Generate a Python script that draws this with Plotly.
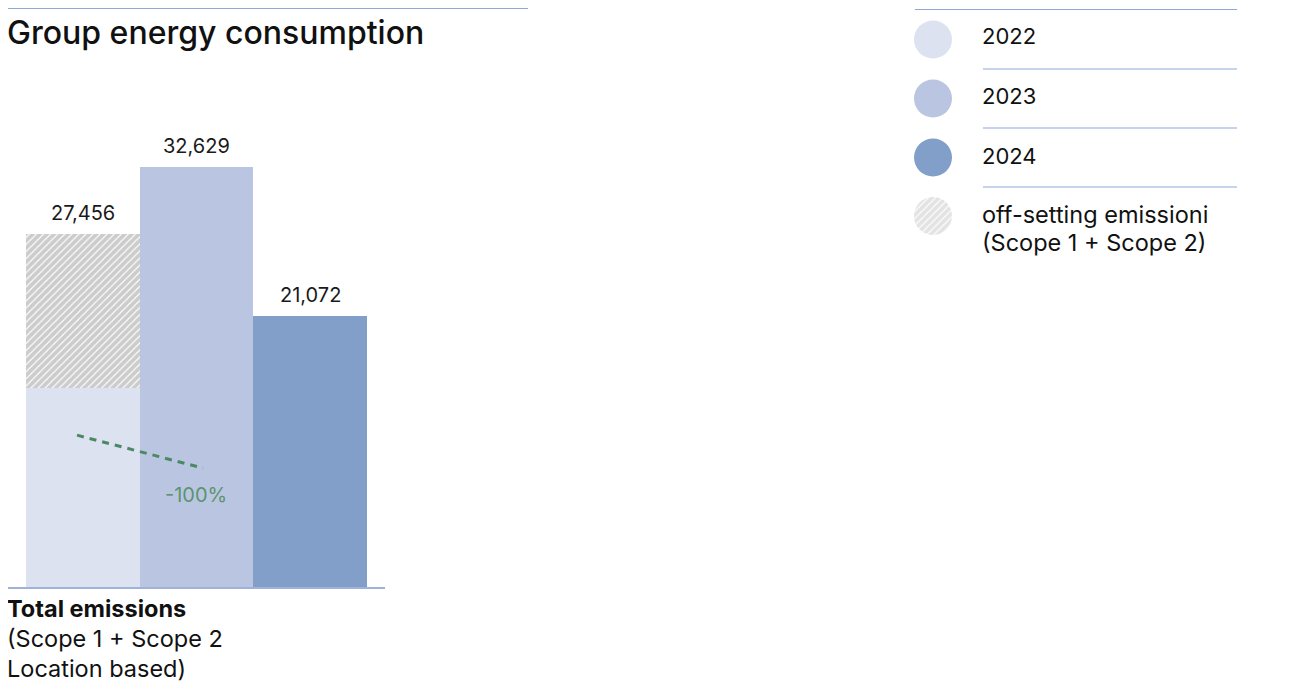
import plotly.graph_objects as go

# ---- data ----
years = ["2022", "2023", "2024"]
totals = [27456, 32629, 21072]
base_2022 = 15480          # non off-set part of 2022
offset_2022 = 11976        # off-setting emissions portion of 2022
total_labels = ["27,456", "32,629", "21,072"]
legend_labels = ["2022", "2023", "2024", "off-setting emissioni<br>(Scope 1 + Scope 2)"]
trend_label = "-100%"
caption_lines = ["<b>Total emissions</b>", "(Scope 1 + Scope 2", "Location based)"]
title_text = "Group energy consumption"

# ---- styles ----
colors = ["#dce2f0", "#bac6e1", "#819fc9"]
hatch_bg = "#cccccc"
line_blue = "#8ea7d6"
green = "#4b8864"
FONT = "Inter"
PAGE_W, PAGE_H = 1293, 682
OFF = 8                                  # browser body margin
W, H = PAGE_W - OFF, PAGE_H - OFF


def px(x):
    return (x - OFF) / W


def py(y):
    return 1 - (y - OFF) / H


fig = go.Figure()

# bars
fig.add_trace(go.Bar(x=[0], y=[base_2022], width=1, marker=dict(color=colors[0], line=dict(width=0)),
                     name=years[0], hoverinfo="skip"))
fig.add_trace(go.Bar(x=[0], y=[offset_2022], width=1,
                     marker=dict(color=hatch_bg, line=dict(width=0),
                                 pattern=dict(shape="/", fgcolor="white", bgcolor=hatch_bg,
                                              size=5, solidity=0.22, fillmode="replace")),
                     name="offset", hoverinfo="skip"))
fig.add_trace(go.Bar(x=[1], y=[totals[1]], width=1, marker=dict(color=colors[1], line=dict(width=0)),
                     name=years[1], hoverinfo="skip"))
fig.add_trace(go.Bar(x=[2], y=[totals[2]], width=1, marker=dict(color=colors[2], line=dict(width=0)),
                     name=years[2], hoverinfo="skip"))

annotations = []
for i, (t, lab) in enumerate(zip(totals, total_labels)):
    annotations.append(dict(x=i, y=t, xref="x", yref="y", text=lab, showarrow=False,
                            xanchor="center", yanchor="bottom", yshift=7,
                            font=dict(family=FONT, size=20, color="#1a1a1a")))

# dashed trend line and label
fig.add_shape(type="line", xref="x", yref="y", x0=-0.051, y0=11800, x1=1.057, y1=9240,
              line=dict(color=green, width=3, dash="7px,6px"))
annotations.append(dict(x=px(196), y=py(495), xref="paper", yref="paper", text=trend_label,
                        xanchor="center", yanchor="middle",
                        showarrow=False, font=dict(family=FONT, size=20, color="#5a9470")))

# title + top rule
fig.add_shape(type="line", xref="paper", yref="paper", x0=0, x1=px(528), y0=py(8.5), y1=py(8.5),
              line=dict(color=line_blue, width=1))
annotations.append(dict(x=px(5), y=py(32), xref="paper", yref="paper", xanchor="left", yanchor="middle",
                        text=title_text, showarrow=False,
                        font=dict(family=FONT, size=32, color="#111111", weight=500)))

# bottom caption
for txt, yy in zip(caption_lines, [608, 638, 668]):
    annotations.append(dict(x=px(5), y=py(yy), xref="paper", yref="paper", xanchor="left", yanchor="middle",
                            text=txt, showarrow=False, font=dict(family=FONT, size=23.5, color="#111111")))

# legend (custom)
fig.add_shape(type="line", xref="paper", yref="paper", x0=px(915), x1=px(1237), y0=py(9.5), y1=py(9.5),
              line=dict(color=line_blue, width=1))
for yy in [69, 128, 187]:
    fig.add_shape(type="line", xref="paper", yref="paper", x0=px(983), x1=px(1237), y0=py(yy), y1=py(yy),
                  line=dict(color=line_blue, width=1))

circle_cy = [39.5, 98.5, 157.5, 216]
legend_marker = [dict(colors=[colors[0]]), dict(colors=[colors[1]]), dict(colors=[colors[2]]),
                 dict(colors=["#e3e3e3"], pattern=dict(shape="/", fgcolor="white", bgcolor="#e3e3e3",
                                                       size=5, solidity=0.22))]
for cy, mk in zip(circle_cy, legend_marker):
    mk = dict(mk)
    mk["line"] = dict(width=0)
    fig.add_trace(go.Pie(values=[1], labels=[""], textinfo="none", hoverinfo="skip", sort=False,
                         showlegend=False, marker=mk,
                         domain=dict(x=[px(933 - 19), px(933 + 19)], y=[py(cy + 19), py(cy - 19)])))

for lab, yy in zip(legend_labels[:3], [36, 96, 156]):
    annotations.append(dict(x=px(980), y=py(yy), xref="paper", yref="paper", xanchor="left", yanchor="middle",
                            text=lab, showarrow=False, font=dict(family=FONT, size=22, color="#111111")))
for lab, yy in zip(legend_labels[3].split("<br>"), [214, 242]):
    annotations.append(dict(x=px(980), y=py(yy), xref="paper", yref="paper", xanchor="left", yanchor="middle",
                            text=lab, showarrow=False, font=dict(family=FONT, size=23.5, color="#111111")))

fig.update_layout(
    width=W, height=H, barmode="stack", bargap=0, showlegend=False,
    margin=dict(l=0, r=0, t=0, b=0), paper_bgcolor="white", plot_bgcolor="white",
    xaxis=dict(domain=[0, px(385)], range=[-0.658, 2.658], showgrid=False, zeroline=False,
               showticklabels=False, showline=True, linecolor="#9fb2da", linewidth=2, fixedrange=True),
    yaxis=dict(domain=[py(587), 1], range=[0, 45000], showgrid=False, zeroline=False,
               showticklabels=False, showline=False, fixedrange=True),
    annotations=annotations,
)

fig.write_html("out.html", config={"displayModeBar": False})
